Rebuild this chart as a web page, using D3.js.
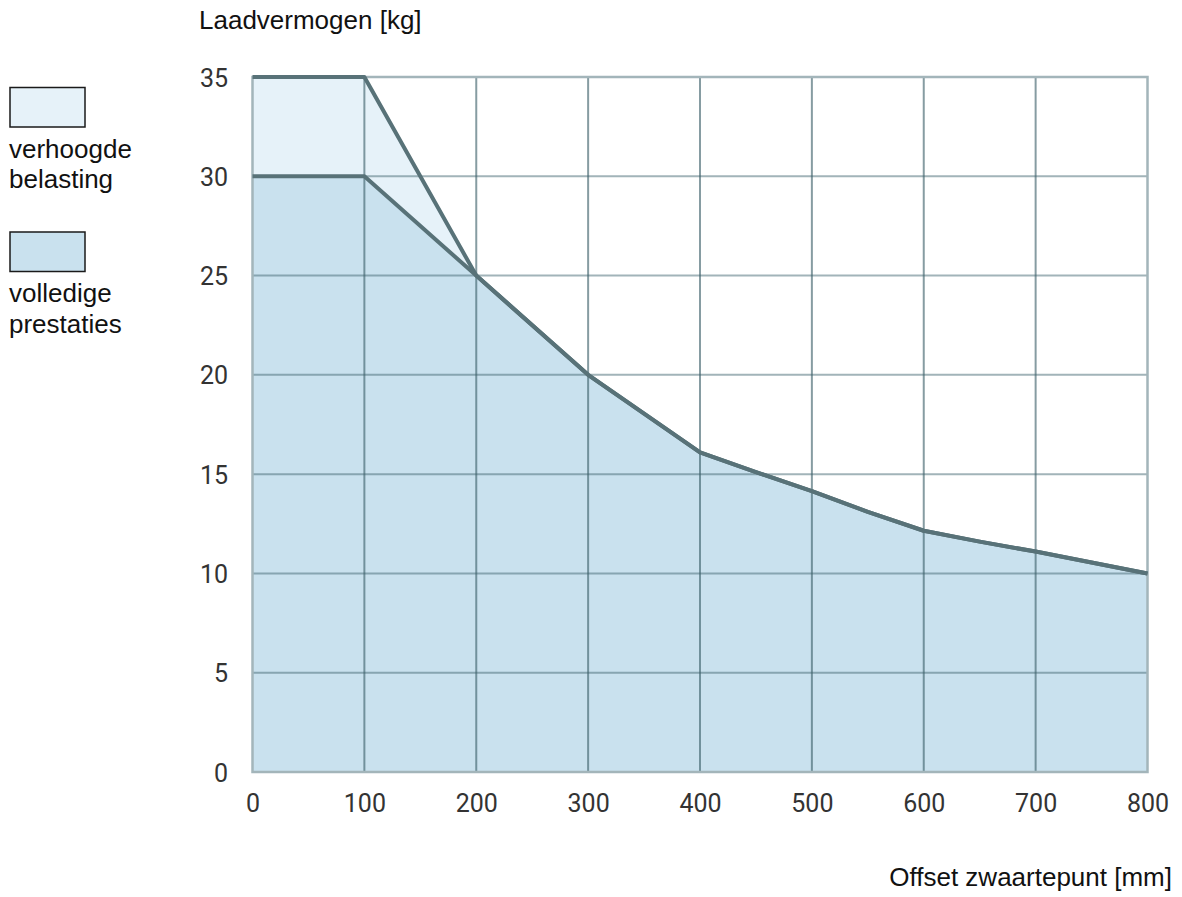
<!DOCTYPE html>
<html>
<head>
<meta charset="utf-8">
<script src="https://cdn.jsdelivr.net/npm/d3@7"></script>
<style>
  html, body { margin: 0; padding: 0; background: #fff; }
  svg { display: block; }
</style>
</head>
<body>
<svg id="chart" width="1182" height="897"></svg>
<script>
// ---- data ----
const offsets = [0, 100, 200, 300, 400, 450, 500, 550, 600, 650, 700, 750, 800];
const verhoogdeBelasting = [35, 35, 25, 20, 16.1, 15.1, 14.15, 13.1, 12.15, 11.6, 11.1, 10.55, 10];
const volledigePrestaties = [30, 30, 25, 20, 16.1, 15.1, 14.15, 13.1, 12.15, 11.6, 11.1, 10.55, 10];
const xTicks = [0, 100, 200, 300, 400, 500, 600, 700, 800];
const yTicks = [0, 5, 10, 15, 20, 25, 30, 35];
const legendLabels = [["verhoogde", "belasting"], ["volledige", "prestaties"]];
const titleY = "Laadvermogen [kg]";
const titleX = "Offset zwaartepunt [mm]";

(function () {
// ---- layout ----
const svg = d3.select("#chart");
const pLeft = 252.5, pRight = 1147.5, pTop = 77, pBottom = 772;
const x = d3.scaleLinear().domain([0, 800]).range([pLeft, pRight]);
const y = d3.scaleLinear().domain([0, 35]).range([pBottom, pTop]);

const colLight = "#e6f2f9";
const colFull = "#c9e1ee";
const colLine = "#587278";

const hiData = offsets.map((o, i) => ({ x: o, y: verhoogdeBelasting[i] }));
const fullData = offsets.map((o, i) => ({ x: o, y: volledigePrestaties[i] }));

const area = d3.area().x(d => x(d.x)).y0(y(0)).y1(d => y(d.y));
const line = d3.line().x(d => x(d.x)).y(d => y(d.y));

svg.append("path").attr("d", area(hiData)).attr("fill", colLight);
svg.append("path").attr("d", area(fullData)).attr("fill", colFull);

// grid
const grid = svg.append("g");
grid.selectAll("line.h").data(yTicks.filter(t => t > 0 && t < 35)).enter().append("line")
  .attr("x1", pLeft).attr("x2", pRight)
  .attr("y1", d => y(d)).attr("y2", d => y(d))
  .attr("stroke", "rgba(70,105,115,0.5)").attr("stroke-width", 2);
grid.selectAll("line.v").data(xTicks.filter(t => t > 0 && t < 800)).enter().append("line")
  .attr("y1", pTop).attr("y2", pBottom)
  .attr("x1", d => x(d)).attr("x2", d => x(d))
  .attr("stroke", "rgba(60,95,105,0.62)").attr("stroke-width", 2);

// frame
svg.append("rect").attr("x", pLeft).attr("y", pTop)
  .attr("width", pRight - pLeft).attr("height", pBottom - pTop)
  .attr("fill", "none").attr("stroke", "#a3b5ba").attr("stroke-width", 2.5);

// curves
svg.append("path").attr("d", line(hiData)).attr("fill", "none")
  .attr("stroke", colLine).attr("stroke-width", 4).attr("stroke-linejoin", "round");
svg.append("path").attr("d", line(fullData)).attr("fill", "none")
  .attr("stroke", colLine).attr("stroke-width", 4).attr("stroke-linejoin", "round");

// axes (labels only)
const xAxis = d3.axisBottom(x).tickValues(xTicks).tickSize(0).tickPadding(0);
const gx = svg.append("g").attr("transform", `translate(0,${pBottom})`).call(xAxis);
gx.select(".domain").remove();
gx.selectAll("text").attr("dy", null).attr("y", 40)
  .attr("font-family", "Roboto, sans-serif").attr("font-size", 25).attr("fill", "#333");

const yAxis = d3.axisLeft(y).tickValues(yTicks).tickSize(0).tickPadding(0);
const gy = svg.append("g").attr("transform", `translate(228,0)`).call(yAxis);
gy.select(".domain").remove();
gy.selectAll("text").attr("x", 0).attr("dy", "0.36em")
  .attr("font-family", "Roboto, sans-serif").attr("font-size", 25).attr("fill", "#333");

// titles
svg.append("text").attr("x", 199).attr("y", 29).text(titleY)
  .attr("font-family", "'Liberation Sans', Arial, sans-serif").attr("font-size", 26).attr("fill", "#111");
svg.append("text").attr("x", 1172).attr("y", 886).attr("text-anchor", "end").text(titleX)
  .attr("font-family", "'Liberation Sans', Arial, sans-serif").attr("font-size", 26).attr("fill", "#111");

// legend
const legendFills = [colLight, colFull];
const legendBoxY = [87.5, 232];
const legendTextY = [[158, 188], [302, 333]];
legendLabels.forEach((lines, i) => {
  svg.append("rect").attr("x", 10).attr("y", legendBoxY[i]).attr("width", 75).attr("height", 39.5)
    .attr("fill", legendFills[i]).attr("stroke", "#1a1a1a").attr("stroke-width", 1.5);
  lines.forEach((t, j) => {
    svg.append("text").attr("x", 9).attr("y", legendTextY[i][j]).text(t)
      .attr("font-family", "'Liberation Sans', Arial, sans-serif").attr("font-size", 26).attr("fill", "#111");
  });
});
})();
</script>
</body>
</html>
